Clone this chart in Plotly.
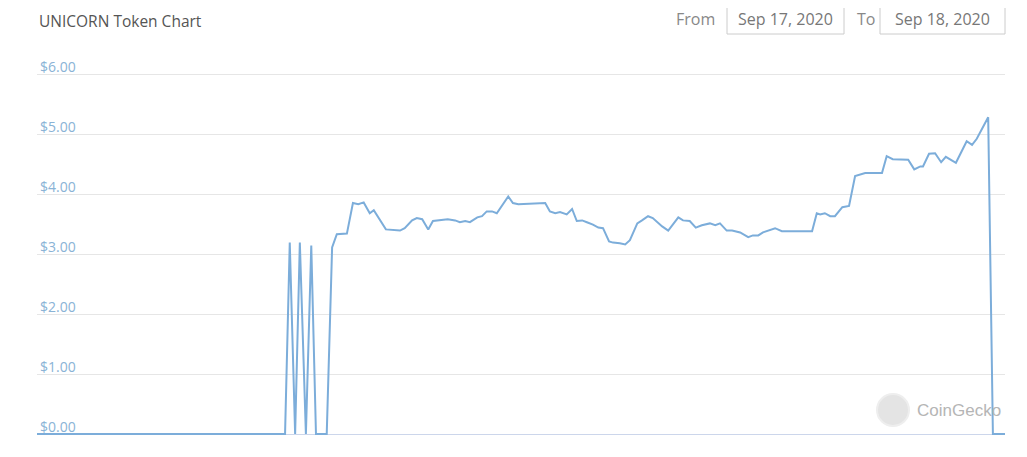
import plotly.graph_objects as go

# ---- data ----
times = [
    "2020-09-17 00:00", "2020-09-17 06:09", "2020-09-17 06:16", "2020-09-17 06:24",
    "2020-09-17 06:31", "2020-09-17 06:40", "2020-09-17 06:48", "2020-09-17 06:55",
    "2020-09-17 07:11", "2020-09-17 07:19", "2020-09-17 07:26", "2020-09-17 07:41",
    "2020-09-17 07:50", "2020-09-17 07:58", "2020-09-17 08:06", "2020-09-17 08:15",
    "2020-09-17 08:21", "2020-09-17 08:30", "2020-09-17 08:39", "2020-09-17 09:00",
    "2020-09-17 09:07", "2020-09-17 09:18", "2020-09-17 09:25", "2020-09-17 09:33",
    "2020-09-17 09:42", "2020-09-17 09:49", "2020-09-17 09:57", "2020-09-17 10:11",
    "2020-09-17 10:22", "2020-09-17 10:29", "2020-09-17 10:37", "2020-09-17 10:44",
    "2020-09-17 10:55", "2020-09-17 11:02", "2020-09-17 11:09", "2020-09-17 11:17",
    "2020-09-17 11:24", "2020-09-17 11:41", "2020-09-17 11:48", "2020-09-17 11:56",
    "2020-09-17 12:36", "2020-09-17 12:43", "2020-09-17 12:51", "2020-09-17 12:58",
    "2020-09-17 13:08", "2020-09-17 13:16", "2020-09-17 13:23", "2020-09-17 13:31",
    "2020-09-17 13:38", "2020-09-17 13:47", "2020-09-17 13:55", "2020-09-17 14:02",
    "2020-09-17 14:11", "2020-09-17 14:17", "2020-09-17 14:27", "2020-09-17 14:35",
    "2020-09-17 14:42", "2020-09-17 14:53", "2020-09-17 15:00", "2020-09-17 15:09",
    "2020-09-17 15:16", "2020-09-17 15:30", "2020-09-17 15:39", "2020-09-17 15:54",
    "2020-09-17 16:01", "2020-09-17 16:11", "2020-09-17 16:20", "2020-09-17 16:29",
    "2020-09-17 16:41", "2020-09-17 16:49", "2020-09-17 16:56", "2020-09-17 17:06",
    "2020-09-17 17:14", "2020-09-17 17:26", "2020-09-17 17:38", "2020-09-17 17:45",
    "2020-09-17 17:53", "2020-09-17 18:00", "2020-09-17 18:18", "2020-09-17 18:28",
    "2020-09-17 19:13", "2020-09-17 19:20", "2020-09-17 19:25", "2020-09-17 19:32",
    "2020-09-17 19:40", "2020-09-17 19:47", "2020-09-17 19:58", "2020-09-17 20:08",
    "2020-09-17 20:17", "2020-09-17 20:32", "2020-09-17 20:57", "2020-09-17 21:04",
    "2020-09-17 21:13", "2020-09-17 21:36", "2020-09-17 21:45", "2020-09-17 21:54",
    "2020-09-17 21:58", "2020-09-17 22:07", "2020-09-17 22:16", "2020-09-17 22:25",
    "2020-09-17 22:32", "2020-09-17 22:47", "2020-09-17 23:03", "2020-09-17 23:11",
    "2020-09-17 23:18", "2020-09-17 23:35", "2020-09-17 23:42", "2020-09-18 00:00",
]
prices = [
    0.00, 0.00, 3.19, 0.00,
    3.19, 0.00, 3.14, 0.00,
    0.00, 3.11, 3.33, 3.34,
    3.85, 3.83, 3.86, 3.68,
    3.73, 3.58, 3.41, 3.39,
    3.43, 3.56, 3.60, 3.58,
    3.41, 3.55, 3.56, 3.58,
    3.56, 3.53, 3.55, 3.53,
    3.61, 3.63, 3.71, 3.71,
    3.68, 3.96, 3.85, 3.83,
    3.85, 3.71, 3.68, 3.70,
    3.66, 3.75, 3.55, 3.56,
    3.53, 3.49, 3.44, 3.43,
    3.21, 3.19, 3.18, 3.16,
    3.23, 3.51, 3.56, 3.63,
    3.60, 3.46, 3.39, 3.61,
    3.56, 3.55, 3.44, 3.48,
    3.51, 3.48, 3.51, 3.39,
    3.39, 3.36, 3.28, 3.31,
    3.31, 3.36, 3.43, 3.38,
    3.38, 3.68, 3.66, 3.68,
    3.63, 3.63, 3.78, 3.80,
    4.30, 4.35, 4.35, 4.63,
    4.58, 4.57, 4.41, 4.46,
    4.46, 4.67, 4.68, 4.53,
    4.62, 4.52, 4.88, 4.82,
    4.92, 5.28, 0.00, 0.00,
]
tick_values = [0, 1, 2, 3, 4, 5, 6]
tick_labels = ["$0.00", "$1.00", "$2.00", "$3.00", "$4.00", "$5.00", "$6.00"]
title_text = "UNICORN Token Chart"
date_from = "Sep 17, 2020"
date_to = "Sep 18, 2020"

# ---- geometry (pixel positions in the page) ----
OFF = 8                  # default page body margin
W, H = 1027 - OFF, 457 - OFF
L, R = 37, 1005          # plot area left/right in page px
Y0, Y6 = 434, 74         # page px of $0 and $6 gridlines
YMIN, YMAX = -0.05, 6.45
PPU = (Y0 - Y6) / 6.0
T = Y6 - (YMAX - 6) * PPU
B = Y0 + (0 - YMIN) * PPU


def px(x):
    return (x - L) / (R - L)


def py(y):
    return (B - y) / (B - T)


fig = go.Figure()
fig.add_trace(go.Scatter(
    x=times, y=prices, mode="lines",
    line=dict(color="#7cadda", width=2),
    hoverinfo="x+y", showlegend=False,
))

shapes = [
    dict(type="rect", xref="paper", yref="paper",
         x0=px(727), x1=px(844), y0=py(34), y1=py(7),
         line=dict(color="#cccccc", width=1), fillcolor="white"),
    dict(type="rect", xref="paper", yref="paper",
         x0=px(880), x1=px(1005), y0=py(34), y1=py(7),
         line=dict(color="#cccccc", width=1), fillcolor="white"),
    dict(type="circle", xref="paper", yref="paper", layer="below",
         x0=px(877), x1=px(909), y0=py(426), y1=py(394),
         line=dict(color="#eeeeee", width=2), fillcolor="#e4e4e4"),
]

annotations = [
    dict(text=title_text, xref="paper", yref="paper", x=0, y=py(21),
         xanchor="left", yanchor="middle", showarrow=False,
         font=dict(family="Open Sans", size=15.5, color="#555555")),
    dict(text="From", xref="paper", yref="paper", x=px(717), y=py(19),
         xanchor="right", yanchor="middle", showarrow=False,
         font=dict(family="Open Sans", size=16, color="#888888")),
    dict(text=date_from, xref="paper", yref="paper", x=px(785.5), y=py(19),
         xanchor="center", yanchor="middle", showarrow=False,
         font=dict(family="Open Sans", size=16, color="#777777")),
    dict(text="To", xref="paper", yref="paper", x=px(877), y=py(19),
         xanchor="right", yanchor="middle", showarrow=False,
         font=dict(family="Open Sans", size=16, color="#888888")),
    dict(text=date_to, xref="paper", yref="paper", x=px(942.5), y=py(19),
         xanchor="center", yanchor="middle", showarrow=False,
         font=dict(family="Open Sans", size=16, color="#777777")),
    dict(text="CoinGecko", xref="paper", yref="paper", x=px(915), y=py(410),
         xanchor="left", yanchor="middle", showarrow=False,
         font=dict(family="Liberation Sans", size=17, color="#b5b5b5")),
]

fig.update_layout(
    width=W, height=H,
    margin=dict(l=L - OFF, r=(W + OFF) - R, t=T - OFF, b=(H + OFF) - B, pad=0),
    paper_bgcolor="white", plot_bgcolor="white",
    shapes=shapes, annotations=annotations,
    xaxis=dict(
        range=["2020-09-17 00:00", "2020-09-18 00:00"],
        visible=False, showgrid=False, zeroline=False,
    ),
    yaxis=dict(
        range=[YMIN, YMAX],
        tickvals=tick_values, ticktext=tick_labels,
        ticklabelposition="inside top",
        ticklabelshift=3,
        tickfont=dict(family="Open Sans", size=14, color="#8ab3d6"),
        showgrid=True, gridcolor="#e6e6e6", gridwidth=1,
        zeroline=True, zerolinecolor="#ccd6eb", zerolinewidth=1,
        showline=False, ticks="",
    ),
    font=dict(family="Open Sans"),
)

fig.write_html("out.html")
